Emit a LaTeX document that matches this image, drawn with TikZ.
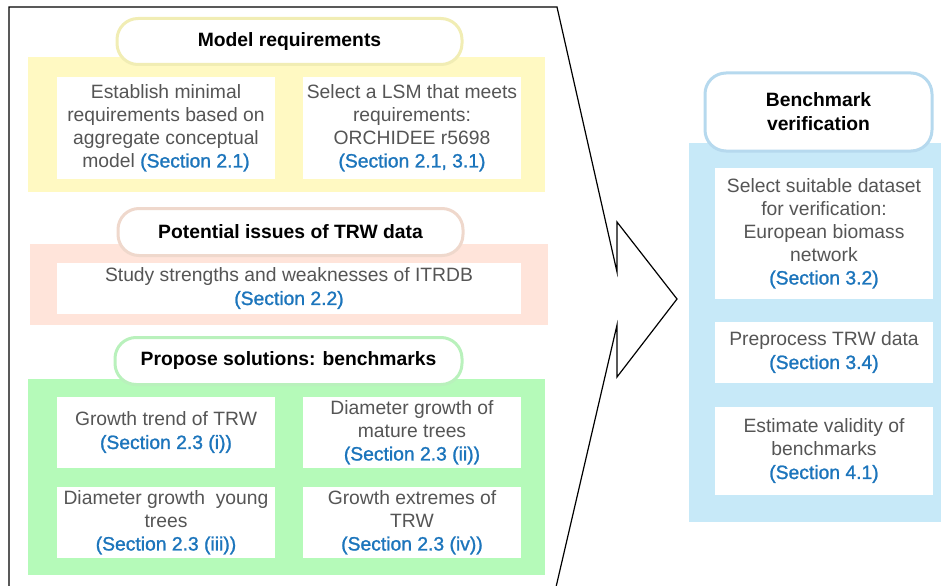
\documentclass[tikz,border=0pt]{standalone}
\usepackage{fontspec}
\setmainfont{Liberation Sans}
\newfontfamily\secfont{Liberation Sans}[FakeBold=1.2]
\definecolor{ypanel}{HTML}{FFF9C2}
\definecolor{yline}{HTML}{F1EDB4}
\definecolor{opanel}{HTML}{FFE4DA}
\definecolor{oline}{HTML}{EFD8CC}
\definecolor{gpanel}{HTML}{B5FAB9}
\definecolor{gline}{HTML}{B9F1BC}
\definecolor{bpanel}{HTML}{C7E9F8}
\definecolor{bline}{HTML}{B6D9EE}
\definecolor{bodytext}{HTML}{555555}
\definecolor{secblue}{HTML}{1C75BC}
\newcommand{\sref}[1]{{\secfont\textcolor{secblue}{#1}}}
\tikzset{
  panel/.style={draw=none, anchor=north west, inner sep=0pt},
  pill/.style={draw=#1, fill=white, line width=3pt, rounded corners=21pt, inner sep=0pt,
     font=\fontsize{19.3}{24}\selectfont\bfseries, text=black, align=center},
  wbox/.style={fill=white, inner sep=0pt, align=center, text=bodytext,
     font=\fontsize{19.3}{23}\selectfont},
  outline/.style={draw=black, line width=1.2pt, line join=miter},
}
\begin{document}
\begin{tikzpicture}[x=1pt,y=-1pt]
\useasboundingbox (0,0) rectangle (943,586);
\clip (0,0) rectangle (943,586);
% outline arrow shape
\coordinate (o1) at (9,600);
\coordinate (o2) at (9,7);
\coordinate (o3) at (557,7);
\coordinate (o4) at (617,272);
\coordinate (o5) at (617,222);
\coordinate (o6) at (677,299);
\coordinate (o7) at (617,377);
\coordinate (o8) at (617,325);
\coordinate (o9) at (553,600);
\draw[outline] (o1) -- (o2) -- (o3) -- (o4) -- (o5) -- (o6) -- (o7) -- (o8) -- (o9);

% yellow section
\node[panel, fill=ypanel, minimum width=517pt, minimum height=135pt] (yp) at (28,57) {};
\node[pill=yline, minimum width=345pt, minimum height=46pt] (yh) at (289.5,41.5) {Model requirements};
\node[wbox, minimum width=218pt, minimum height=102pt] (y1) at (166,128)
  {Establish minimal\\requirements based on\\aggregate conceptual\\model \sref{(Section 2.1)}};
\node[wbox, minimum width=218pt, minimum height=102pt] (y2) at (412,128)
  {Select a LSM that meets\\requirements:\\ORCHIDEE r5698\\\sref{(Section 2.1, 3.1)}};

% orange section
\node[panel, fill=opanel, minimum width=518pt, minimum height=81pt] (op) at (30,244) {};
\node[pill=oline, minimum width=345pt, minimum height=47pt] (oh) at (290.5,232) {Potential issues of TRW data};
\node[wbox, minimum width=464pt, minimum height=51pt] (o1b) at (289,288.5)
  {Study strengths and weaknesses of ITRDB\\\sref{(Section 2.2)}};

% green section
\node[panel, fill=gpanel, minimum width=517pt, minimum height=196pt] (gp) at (28,379) {};
\node[pill=gline, minimum width=347pt, minimum height=47pt] (gh) at (288.5,361) {Propose solutions: benchmarks};
\node[wbox, minimum width=218pt, minimum height=71pt] (g1) at (166,432.5)
  {Growth trend of TRW\\\sref{(Section 2.3 (i))}};
\node[wbox, minimum width=218pt, minimum height=71pt] (g2) at (412,432.5)
  {Diameter growth of\\mature trees\\\sref{(Section 2.3 (ii))}};
\node[wbox, minimum width=218pt, minimum height=71pt] (g3) at (166,522.5)
  {Diameter growth\ \ young\\trees\\\sref{(Section 2.3 (iii))}};
\node[wbox, minimum width=218pt, minimum height=71pt] (g4) at (412,522.5)
  {Growth extremes of\\TRW\\\sref{(Section 2.3 (iv))}};

% blue section
\node[panel, fill=bpanel, minimum width=252pt, minimum height=379pt] (bp) at (689,143) {};
\node[pill=bline, minimum width=227pt, minimum height=78pt] (bh) at (818.5,112) {Benchmark\\verification};
\node[wbox, minimum width=218pt, minimum height=131pt] (b1) at (824,233.5)
  {Select suitable dataset\\for verification:\\European biomass\\network\\\sref{(Section 3.2)}};
\node[wbox, minimum width=218pt, minimum height=61pt] (b2) at (824,352.5)
  {Preprocess TRW data\\\sref{(Section 3.4)}};
\node[wbox, minimum width=218pt, minimum height=88pt] (b3) at (824,451)
  {Estimate validity of\\benchmarks\\\sref{(Section 4.1)}};
\end{tikzpicture}
\end{document}
